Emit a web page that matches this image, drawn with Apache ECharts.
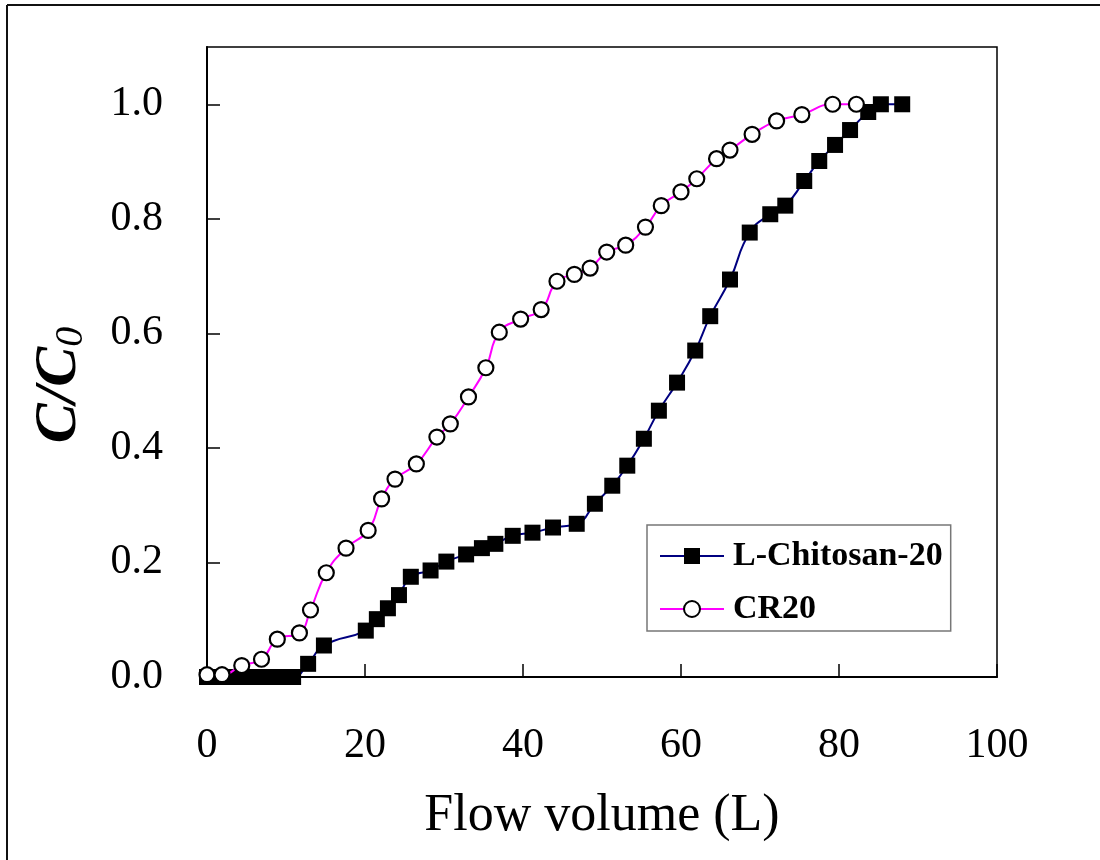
<!DOCTYPE html>
<html>
<head>
<meta charset="utf-8">
<script src="https://cdn.jsdelivr.net/npm/echarts@6/dist/echarts.min.js"></script>
<style>
  html, body { margin: 0; padding: 0; background: #fff; overflow: hidden; }
  #chart { width: 1100px; height: 860px; }
</style>
</head>
<body>
<div id="chart"></div>
<script>
// Breakthrough curves: C/C0 versus flow volume
const chitosanX = [0, 1.9, 3.8, 5.6, 7.4, 9.2, 10.9, 12.8, 14.8, 20.1, 21.5, 22.9, 24.3, 25.8, 28.3, 30.3, 32.8, 34.8, 36.5, 38.7, 41.2, 43.8, 46.8, 49.1, 51.3, 53.2, 55.3, 57.2, 59.5, 61.8, 63.7, 66.2, 68.7, 71.3, 73.2, 75.6, 77.5, 79.5, 81.4, 83.7, 85.3, 88.0];
const chitosanY = [0, 0, 0, 0, 0, 0, 0, 0.023, 0.055, 0.081, 0.101, 0.12, 0.143, 0.175, 0.186, 0.2015, 0.214, 0.225, 0.2325, 0.2465, 0.252, 0.261, 0.2675, 0.3025, 0.334, 0.369, 0.416, 0.465, 0.514, 0.570, 0.630, 0.694, 0.776, 0.808, 0.823, 0.866, 0.901, 0.929, 0.955, 0.9865, 1.0, 1.0];

const cr20X = [0, 1.9, 4.4, 6.9, 8.9, 11.7, 13.1, 15.1, 17.6, 20.4, 22.1, 23.8, 26.5, 29.1, 30.8, 33.1, 35.3, 37.0, 39.7, 42.3, 44.3, 46.5, 48.5, 50.6, 53.0, 55.5, 57.5, 60.0, 62.0, 64.5, 66.2, 69.0, 72.1, 75.3, 79.2, 82.2];
const cr20Y = [0.004, 0.004, 0.02, 0.031, 0.066, 0.077, 0.117, 0.182, 0.225, 0.256, 0.311, 0.3455, 0.372, 0.419, 0.442, 0.489, 0.540, 0.602, 0.625, 0.6415, 0.691, 0.703, 0.714, 0.742, 0.754, 0.7855, 0.823, 0.847, 0.870, 0.905, 0.920, 0.9475, 0.971, 0.982, 1.0, 1.0];

const seriesNames = ['L-Chitosan-20', 'CR20'];
const xTitle = 'Flow volume (L)';

const pairs = (xs, ys) => xs.map((x, i) => [x, ys[i]]);
const serif = '"Liberation Serif", "Times New Roman", serif';

const chart = echarts.init(document.getElementById('chart'), null, { renderer: 'canvas', width: 1100, height: 860 });

chart.setOption({
  backgroundColor: '#ffffff',
  animation: false,
  grid: {
    left: 207, top: 47, width: 790, height: 630,
    show: true, borderColor: '#000', borderWidth: 1.5, backgroundColor: 'transparent'
  },
  xAxis: {
    type: 'value', min: 0, max: 100, interval: 20,
    name: xTitle, nameLocation: 'middle', nameGap: 113,
    nameTextStyle: { fontFamily: serif, fontSize: 52, color: '#000' },
    axisLine: { show: true, onZero: false, lineStyle: { color: '#000', width: 2 } },
    axisTick: { show: true, inside: true, length: 13, lineStyle: { color: '#000', width: 1.5 } },
    axisLabel: { fontFamily: serif, fontSize: 42, color: '#000', margin: 48 },
    splitLine: { show: false }
  },
  yAxis: {
    type: 'value', min: 0, max: 1.1, interval: 0.2,
    name: '{a|C/C}{b|0}', nameLocation: 'middle', nameGap: 116, nameRotate: 90,
    nameTextStyle: {
      padding: [0, 46, 0, 0],
      rich: {
        a: { fontFamily: serif, fontSize: 60, fontStyle: 'italic', fontWeight: 'bold', color: '#000', lineHeight: 64 },
        b: { fontFamily: serif, fontSize: 40, fontStyle: 'italic', color: '#000', verticalAlign: 'bottom', lineHeight: 64, padding: [16, 0, 0, 0] }
      }
    },
    axisLine: { show: true, lineStyle: { color: '#000', width: 2 } },
    axisTick: { show: true, inside: true, length: 13, lineStyle: { color: '#000', width: 1.5 } },
    axisLabel: {
      fontFamily: serif, fontSize: 42, color: '#000', margin: 44,
      showMaxLabel: false,
      formatter: v => v.toFixed(1)
    },
    splitLine: { show: false }
  },
  legend: {
    orient: 'vertical',
    left: 647, top: 525,
    padding: [11, 8, 2, 12],
    itemGap: 13,
    itemWidth: 64, itemHeight: 20,
    borderColor: '#777', borderWidth: 1.5,
    backgroundColor: '#fff',
    textStyle: { fontFamily: serif, fontSize: 34, fontWeight: 'bold', color: '#000', lineHeight: 40, padding: [0, 0, 0, 4] },
    data: seriesNames
  },
  series: [
    {
      name: seriesNames[0], type: 'line', smooth: 0.5,
      data: pairs(chitosanX, chitosanY),
      symbol: 'rect', symbolSize: 16,
      itemStyle: { color: '#000', borderWidth: 0 },
      lineStyle: { color: '#000080', width: 2 },
      z: 2
    },
    {
      name: seriesNames[1], type: 'line', smooth: 0.5,
      data: pairs(cr20X, cr20Y),
      symbol: 'circle', symbolSize: 15,
      itemStyle: { color: '#fff', borderColor: '#000', borderWidth: 2.2 },
      lineStyle: { color: '#ff00ff', width: 2 },
      z: 3
    }
  ],
  graphic: [
    { type: 'line', shape: { x1: 7, y1: 5, x2: 1100, y2: 5 }, style: { stroke: '#111', lineWidth: 2 } },
    { type: 'line', shape: { x1: 7, y1: 5, x2: 7, y2: 860 }, style: { stroke: '#111', lineWidth: 2 } }
  ]
});
</script>
</body>
</html>
